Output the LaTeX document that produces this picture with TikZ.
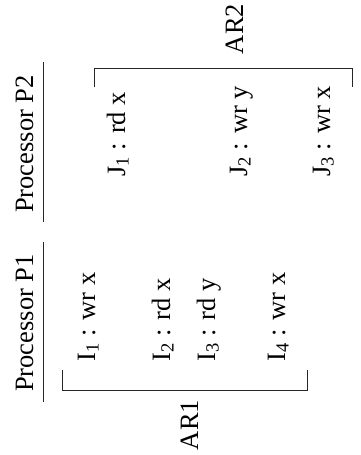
\documentclass[tikz,border=0pt]{standalone}
\usepackage{fontspec}
\setmainfont{Liberation Serif}
\begin{document}
\begin{tikzpicture}[x=1pt,y=-1pt,
  lbl/.style={rotate=90,inner sep=0pt,font=\fontsize{26.5}{31}\selectfont},
  op/.style={lbl,anchor=base west},
  hd/.style={lbl,anchor=base},
  ln/.style={line width=0.9pt,draw=black!85}]
\useasboundingbox (0,0) rectangle (360,455);
% processor headers
\node[hd] (p2) at (33,144) {Processor P2};
\node[hd] (p1) at (33,323) {Processor P1};
\coordinate (p2a) at (43,62); \coordinate (p2b) at (43,222);
\coordinate (p1a) at (43,242); \coordinate (p1b) at (43,402);
\draw[ln] (p2a) -- (p2b);
\draw[ln] (p1a) -- (p1b);
% P2 operations
\node[op] (j1) at (125,177) {J\textsubscript{1} : rd x};
\node[op] (j2) at (247,177) {J\textsubscript{2} : wr y};
\node[op] (j3) at (330,177) {J\textsubscript{3} : wr x};
% P1 operations
\node[op] (i1) at (95,362) {I\textsubscript{1} : wr x};
\node[op] (i2) at (170,362) {I\textsubscript{2} : rd x};
\node[op] (i3) at (215,362) {I\textsubscript{3} : rd y};
\node[op] (i4) at (285,362) {I\textsubscript{4} : wr x};
% AR2 bracket
\coordinate (a2l) at (94,87); \coordinate (a2lt) at (94,68);
\coordinate (a2rt) at (352,68); \coordinate (a2r) at (352,87);
\draw[ln] (a2l) -- (a2lt) -- (a2rt) -- (a2r);
\node[hd] (ar2) at (243,29) {AR2};
% AR1 bracket
\coordinate (a1l) at (62,370); \coordinate (a1lb) at (62,390);
\coordinate (a1rb) at (307,390); \coordinate (a1r) at (307,370);
\draw[ln] (a1l) -- (a1lb) -- (a1rb) -- (a1r);
\node[hd] (ar1) at (198,425) {AR1};
\end{tikzpicture}
\end{document}
